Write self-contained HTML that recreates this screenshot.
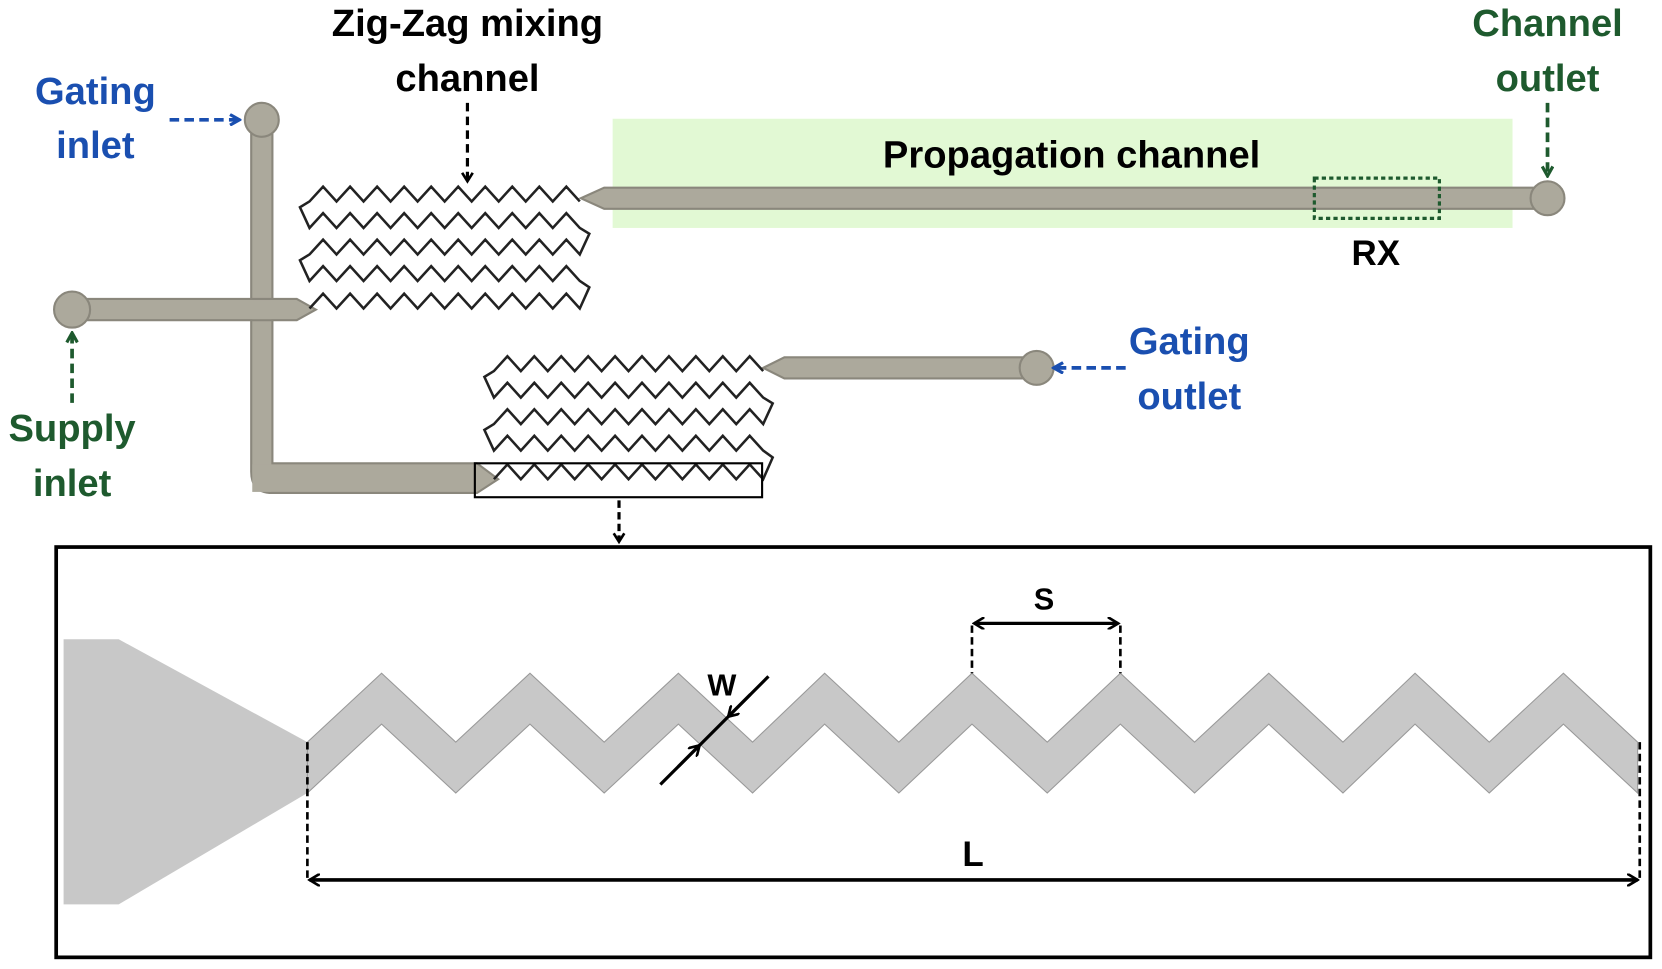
<!DOCTYPE html>
<html><head><meta charset="utf-8"><style>
html,body{margin:0;padding:0;background:#fff;}
svg{display:block;}
text{font-family:"Liberation Sans",sans-serif;font-weight:bold;}
</style></head><body>
<svg id="s" width="1662" height="969" viewBox="0 0 1568 914" preserveAspectRatio="none" xmlns="http://www.w3.org/2000/svg">
<defs>
<marker id="ab" markerWidth="12" markerHeight="12" refX="8" refY="6" orient="auto" markerUnits="userSpaceOnUse"><path d="M1,1 L9,6 L1,11" fill="none" stroke="#000" stroke-width="2.5"/></marker>
<marker id="abl" markerWidth="12" markerHeight="12" refX="9" refY="6" orient="auto" markerUnits="userSpaceOnUse"><path d="M1,1 L10,6 L1,11" fill="none" stroke="#1a4fb0" stroke-width="3"/></marker>
<marker id="ag" markerWidth="12" markerHeight="12" refX="9" refY="6" orient="auto" markerUnits="userSpaceOnUse"><path d="M1,1 L10,6 L1,11" fill="none" stroke="#1e5a2e" stroke-width="3"/></marker>
<marker id="ak" markerWidth="12" markerHeight="12" refX="10" refY="6" orient="auto-start-reverse" markerUnits="userSpaceOnUse"><path d="M0,0 L10,6 L0,12" fill="none" stroke="#000" stroke-width="2.5"/></marker>
</defs>
<rect x="578" y="112" width="849" height="103" fill="#e2f9d4"/>
<g fill="#aca99c" stroke="#8a877c" stroke-width="2">
<path d="M237,113 L257,113 L257,437 L450,437 L470,452 L450,465 L257,465 Q237,465 237,445 Z"/>
<circle cx="247" cy="113" r="16"/>
<path d="M68,282 L280,282 L298,292 L280,302 L68,302 Z"/>
<circle cx="68" cy="292" r="17"/>
<path d="M548,187 L570,177 L1460,177 L1460,197 L570,197 Z"/>
<circle cx="1460" cy="187" r="16"/>
<path d="M720,347 L740,337 L978,337 L978,357 L740,357 Z"/>
<circle cx="978" cy="347" r="16"/>
</g>
<rect x="238" y="283" width="18" height="18" fill="#aca99c"/>
<rect x="238" y="438" width="18" height="26" fill="#aca99c"/>
<g id="zz" fill="none" stroke="#222" stroke-width="2.4" stroke-linejoin="miter"></g>
<rect x="1240" y="168" width="118" height="38" fill="none" stroke="#1e5a2e" stroke-width="3" stroke-dasharray="4,3"/>
<text x="1298" y="250" font-size="33" text-anchor="middle" fill="#000">RX</text>
<rect x="448" y="437" width="271" height="32" fill="none" stroke="#000" stroke-width="2"/>
<line x1="584" y1="472" x2="584" y2="510" stroke="#000" stroke-width="3" stroke-dasharray="7,4" marker-end="url(#ab)"/>
<text x="90" y="98" font-size="36" text-anchor="middle" fill="#1a4fb0">Gating</text>
<text x="90" y="149" font-size="36" text-anchor="middle" fill="#1a4fb0">inlet</text>
<line x1="160" y1="113" x2="225" y2="113" stroke="#1a4fb0" stroke-width="3.5" stroke-dasharray="9,5" marker-end="url(#abl)"/>
<text x="441" y="34" font-size="36" text-anchor="middle" fill="#000">Zig-Zag mixing</text>
<text x="441" y="86" font-size="36" text-anchor="middle" fill="#000">channel</text>
<line x1="441" y1="97" x2="441" y2="170" stroke="#000" stroke-width="3" stroke-dasharray="8,5" marker-end="url(#ab)"/>
<text x="1460" y="34" font-size="36" text-anchor="middle" fill="#1e5a2e">Channel</text>
<text x="1460" y="86" font-size="36" text-anchor="middle" fill="#1e5a2e">outlet</text>
<line x1="1460" y1="97" x2="1460" y2="165" stroke="#1e5a2e" stroke-width="3.5" stroke-dasharray="9,5" marker-end="url(#ag)"/>
<text x="1011" y="158" font-size="36" text-anchor="middle" fill="#000">Propagation channel</text>
<text x="68" y="416" font-size="36" text-anchor="middle" fill="#1e5a2e">Supply</text>
<text x="68" y="468" font-size="36" text-anchor="middle" fill="#1e5a2e">inlet</text>
<line x1="68" y1="380" x2="68" y2="315" stroke="#1e5a2e" stroke-width="3.5" stroke-dasharray="9,5" marker-end="url(#ag)"/>
<text x="1122" y="334" font-size="36" text-anchor="middle" fill="#1a4fb0">Gating</text>
<text x="1122" y="386" font-size="36" text-anchor="middle" fill="#1a4fb0">outlet</text>
<line x1="1062" y1="347" x2="995" y2="347" stroke="#1a4fb0" stroke-width="3.5" stroke-dasharray="9,5" marker-end="url(#abl)"/>
<rect x="53" y="516" width="1504" height="387" fill="#fff" stroke="#000" stroke-width="3.5"/>
<polygon points="60,603 112,603 290,700 290,748 112,853 60,853" fill="#c8c8c8"/>
<path id="band" fill="#c8c8c8" stroke="#999" stroke-width="1"/>
<line x1="917" y1="590" x2="917" y2="635" stroke="#000" stroke-width="2.5" stroke-dasharray="7,4"/>
<line x1="1057" y1="590" x2="1057" y2="635" stroke="#000" stroke-width="2.5" stroke-dasharray="7,4"/>
<line x1="919" y1="588" x2="1055" y2="588" stroke="#000" stroke-width="3" marker-start="url(#ak)" marker-end="url(#ak)"/>
<text x="985" y="575" font-size="29" text-anchor="middle" fill="#000">S</text>
<line x1="623" y1="740" x2="725" y2="638" stroke="#000" stroke-width="3"/>
<line x1="640" y1="723" x2="660" y2="703" stroke="#000" stroke-width="3" marker-end="url(#ak)"/>
<line x1="708" y1="655" x2="687" y2="676" stroke="#000" stroke-width="3" marker-end="url(#ak)"/>
<text x="681" y="656" font-size="29" text-anchor="middle" fill="#000">W</text>
<line x1="290" y1="700" x2="290" y2="830" stroke="#000" stroke-width="2.5" stroke-dasharray="7,4"/>
<line x1="1547" y1="700" x2="1547" y2="830" stroke="#000" stroke-width="2.5" stroke-dasharray="7,4"/>
<line x1="292" y1="830" x2="1545" y2="830" stroke="#000" stroke-width="3.5" marker-start="url(#ak)" marker-end="url(#ak)"/>
<text x="918" y="817" font-size="33" text-anchor="middle" fill="#000">L</text>
</svg>
<script>
var g=document.getElementById('zz'),NS="http://www.w3.org/2000/svg";
function block(x0,x1,cs,startRight){
 var n=20,h=(x1-x0)/n,d="";
 for(var r=0;r<cs.length;r++){
  var c=cs[r],pts=[];
  for(var i=0;i<=n;i++){pts.push([x0+i*h,c+(i%2?-7:7)]);}
  var ltr=(r%2==0)?!startRight:startRight;
  if(!ltr)pts.reverse();
  for(var k=0;k<pts.length;k++){d+=(r==0&&k==0?"M":"L")+pts[k][0].toFixed(1)+","+pts[k][1];}
  if(r<cs.length-1){var ex=pts[pts.length-1][0],mid=(c+cs[r+1])/2;d+="L"+(ltr?ex+9:ex-9)+","+mid;}
 }
 var p=document.createElementNS(NS,"path");p.setAttribute("d",d);g.appendChild(p);
}
block(292,547,[183,208,233,258,284],true);
block(466,720,[343,368,393,418,445],true);
var up=[[290,700]];
var px=[360,430,500,570,640,710,778,848,917,988,1057,1127,1197,1267,1335,1405,1475,1545];
for(var i=0;i<px.length;i++){up.push([px[i],i%2==0?635:700]);}
var d="M"+up.map(function(p){return p[0]+","+p[1]}).join("L");
var low=[[290,748]];for(var i=0;i<px.length;i++){low.push([px[i],i%2==0?683:748]);}
low.reverse();
d+="L"+low.map(function(p){return p[0]+","+p[1]}).join("L")+"Z";
document.getElementById('band').setAttribute("d",d);
</script>
</body></html>
